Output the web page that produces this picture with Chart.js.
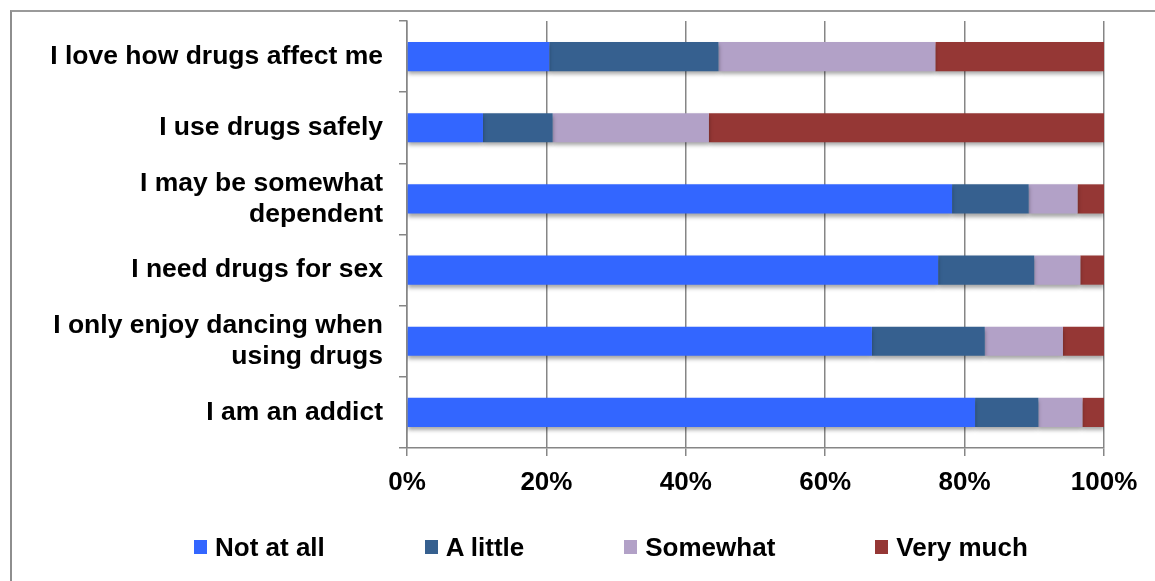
<!DOCTYPE html>
<html>
<head>
<meta charset="utf-8">
<script src="https://cdn.jsdelivr.net/npm/chart.js@4/dist/chart.umd.min.js"></script>
<style>
  body { margin: 0; background: #fff; }
  #moldura {
    position: absolute; left: 10px; top: 10px; right: 0; bottom: 0;
    border-left: 2px solid #8e8e8e; border-top: 2px solid #9a9a9a;
  }
  #grafico { position: absolute; left: 0; top: 0; }
  #legenda {
    position: absolute; left: 194px; top: 532px; height: 30px;
    display: flex; align-items: center; gap: 100px;
    font: bold 26px 'Liberation Sans', Arial, sans-serif; color: #000;
  }
  #legenda span.item { display: flex; align-items: center; }
  #legenda span.caixa { width: 13px; height: 14px; margin-right: 8px; display: inline-block; }
</style>
</head>
<body>
<div id="moldura"></div>
<canvas id="grafico" width="1155" height="581"></canvas>
<div id="legenda"></div>
<script>
const categorias = [
  'I love how drugs affect me',
  'I use drugs safely',
  ['I may be somewhat', 'dependent'],
  'I need drugs for sex',
  ['I only enjoy dancing when', 'using drugs'],
  'I am an addict'
];
const nadaValores = [20.4, 10.9, 78.2, 76.2, 66.7, 81.5];
const poucoValores = [24.3, 10.0, 11.0, 13.8, 16.2, 9.1];
const algoValores = [31.1, 22.4, 7.0, 6.6, 11.2, 6.3];
const muitoValores = [24.2, 56.7, 3.8, 3.4, 5.9, 3.1];
const ticksX = [0, 20, 40, 60, 80, 100];

const fonte = "'Liberation Sans', Arial, sans-serif";
const cinza = '#868686';

// sombra suave embaixo das barras
const sombra = {
  id: 'sombra',
  beforeDatasetsDraw(chart) {
    const c = chart.ctx;
    c.save();
    c.shadowColor = 'rgba(0,0,0,0.35)';
    c.shadowBlur = 4;
    c.shadowOffsetY = 3;
  },
  afterDatasetsDraw(chart) {
    chart.ctx.restore();
  }
};

const series = [
  { label: 'Not at all', data: nadaValores, cor: '#3366FF' },
  { label: 'A little', data: poucoValores, cor: '#36608F' },
  { label: 'Somewhat', data: algoValores, cor: '#B2A1C7' },
  { label: 'Very much', data: muitoValores, cor: '#953735' }
];

const ctx = document.getElementById('grafico').getContext('2d');
const grafico = new Chart(ctx, {
  type: 'bar',
  data: {
    labels: categorias,
    datasets: series.map(s => ({
      label: s.label,
      data: s.data,
      backgroundColor: s.cor,
      borderWidth: 0,
      barPercentage: 0.41,
      categoryPercentage: 1
    }))
  },
  options: {
    indexAxis: 'y',
    responsive: false,
    animation: false,
    devicePixelRatio: 1,
    layout: { padding: { left: 12, right: 51, top: 21, bottom: 73 } },
    plugins: {
      legend: { display: false },
      tooltip: { enabled: false }
    },
    scales: {
      x: {
        stacked: true,
        min: 0,
        max: 100,
        afterBuildTicks: scale => { scale.ticks = ticksX.map(v => ({ value: v })); },
        afterFit: scale => { scale.height = 60; scale.paddingLeft = 0; scale.paddingRight = 0; },
        ticks: {
          color: '#000',
          font: { family: fonte, size: 26, weight: 'bold' },
          padding: 11,
          callback: v => v + '%'
        },
        grid: { color: cinza, lineWidth: 1.5, tickLength: 8 },
        border: { color: cinza, width: 1.5 }
      },
      y: {
        stacked: true,
        afterFit: scale => { scale.width = 395; scale.paddingTop = 0; scale.paddingBottom = 0; },
        ticks: {
          color: '#000',
          font: { family: fonte, size: 26.5, weight: 'bold', lineHeight: 1.17 },
          padding: 16
        },
        grid: { offset: true, drawOnChartArea: false, color: cinza, lineWidth: 1.5, tickLength: 8 },
        border: { color: cinza, width: 1.5 }
      }
    }
  },
  plugins: [sombra]
});

// legenda montada a partir dos datasets
const legenda = document.getElementById('legenda');
grafico.data.datasets.forEach(ds => {
  const item = document.createElement('span');
  item.className = 'item';
  const caixa = document.createElement('span');
  caixa.className = 'caixa';
  caixa.style.background = ds.backgroundColor;
  item.appendChild(caixa);
  item.appendChild(document.createTextNode(ds.label));
  legenda.appendChild(item);
});
</script>
</body>
</html>
